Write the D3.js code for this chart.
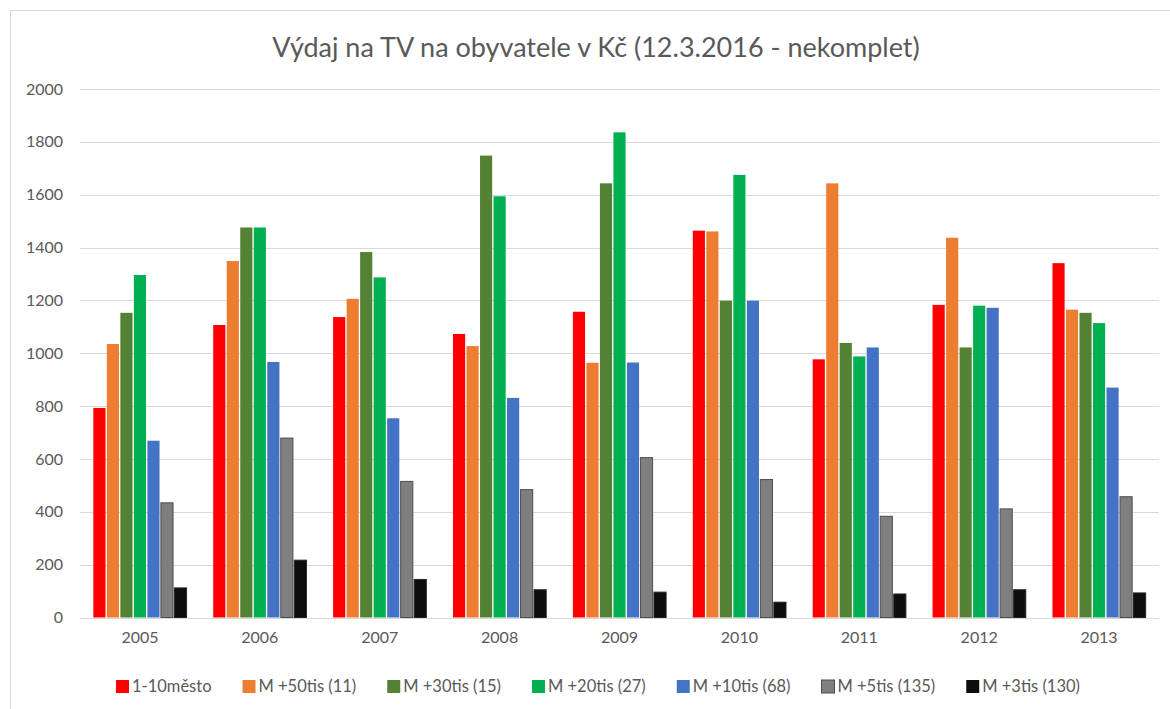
<!DOCTYPE html>
<html>
<head>
<meta charset="utf-8">
<script src="https://cdn.jsdelivr.net/npm/d3@7"></script>
<style>
  body { margin: 0; background: #fff; }
  svg text { font-family: Lato, "Open Sans", sans-serif; }
</style>
</head>
<body>
<script>
// data
var years = ["2005", "2006", "2007", "2008", "2009", "2010", "2011", "2012", "2013"];
var seriesNames = ["1-10město", "M +50tis (11)", "M +30tis (15)", "M +20tis (27)",
                   "M +10tis (68)", "M +5tis (135)", "M +3tis (130)"];
var seriesColors = ["#FF0000", "#ED7D31", "#548235", "#00B050", "#4472C4", "#7F7F7F", "#0D0D0D"];

var mesto   = [793, 1107, 1137, 1073, 1157, 1464, 977, 1183, 1341];
var m50tis  = [1035, 1349, 1206, 1027, 964, 1461, 1643, 1437, 1165];
var m30tis  = [1153, 1476, 1383, 1748, 1643, 1199, 1039, 1022, 1153];
var m20tis  = [1296, 1476, 1287, 1594, 1836, 1675, 988, 1180, 1114];
var m10tis  = [669, 967, 754, 831, 965, 1199, 1022, 1172, 870];
var m5tis   = [434, 679, 515, 484, 605, 522, 383, 411, 457];
var m3tis   = [112, 217, 144, 105, 96, 58, 89, 105, 93];

var yTicks = [0, 200, 400, 600, 800, 1000, 1200, 1400, 1600, 1800, 2000];

var allSeries = [mesto, m50tis, m30tis, m20tis, m10tis, m5tis, m3tis];

var width = 1170, height = 709;
var margin = {top: 89, right: 11, bottom: 91, left: 80};

var svg = d3.select("body").append("svg")
  .attr("width", width)
  .attr("height", height);

// chart frame
svg.append("rect")
  .attr("x", 10.5).attr("y", 10.5)
  .attr("width", width + 10).attr("height", height + 10)
  .attr("fill", "none")
  .attr("stroke", "#D9D9D9")
  .attr("stroke-width", 1);

svg.append("text")
  .attr("x", 596)
  .attr("y", 57)
  .attr("text-anchor", "middle")
  .attr("fill", "#595959")
  .style("font-size", "27px")
  .text("Výdaj na TV na obyvatele v Kč (12.3.2016 - nekomplet)");

var x0 = d3.scaleBand()
  .domain(years)
  .range([margin.left, width - margin.right])
  .paddingInner(0.2)
  .paddingOuter(0.1);

var x1 = d3.scaleBand()
  .domain(d3.range(seriesNames.length))
  .range([0, x0.bandwidth()])
  .padding(0.1);

var y = d3.scaleLinear()
  .domain([0, 2000])
  .range([height - margin.bottom - 0.5, margin.top]);

// gridlines
svg.append("g")
  .selectAll("line")
  .data(yTicks)
  .enter().append("line")
    .attr("x1", margin.left)
    .attr("x2", width - margin.right)
    .attr("y1", d => Math.round(y(d)) + 0.5)
    .attr("y2", d => Math.round(y(d)) + 0.5)
    .attr("stroke", "#D9D9D9")
    .attr("stroke-width", 1);

// y axis labels
var yAxis = svg.append("g")
  .attr("transform", "translate(" + (margin.left - 17) + ",0)")
  .call(d3.axisLeft(y).tickValues(yTicks).tickFormat(d3.format("d")).tickSize(0).tickPadding(0));
yAxis.select(".domain").remove();
yAxis.selectAll("text")
  .attr("fill", "#595959")
  .style("font-size", "16px")
  .style("font-family", "Lato, 'Open Sans', sans-serif");

// x axis labels
var xAxis = svg.append("g")
  .attr("transform", "translate(0," + (height - margin.bottom) + ")")
  .call(d3.axisBottom(x0).tickSize(0).tickPadding(14));
xAxis.select(".domain").remove();
xAxis.selectAll("text")
  .attr("fill", "#595959")
  .style("font-size", "16px")
  .style("font-family", "Lato, 'Open Sans', sans-serif");

// bars
var groups = svg.append("g")
  .selectAll("g")
  .data(years)
  .enter().append("g")
    .attr("transform", d => "translate(" + x0(d) + ",0)");

groups.selectAll("rect")
  .data((d, i) => allSeries.map((s, k) => ({k: k, v: s[i]})))
  .enter().append("rect")
    .attr("x", d => x1(d.k))
    .attr("y", d => y(d.v))
    .attr("width", x1.bandwidth())
    .attr("height", d => y(0) - y(d.v))
    .attr("fill", d => seriesColors[d.k])
    .attr("stroke", d => d.k === 5 ? "#4D4D4D" : (d.k === 6 ? "#262626" : "none"))
    .attr("stroke-width", 1);

// legend, laid out centred
var legend = svg.append("g")
  .attr("transform", "translate(0,692)");

var items = legend.selectAll("g")
  .data(seriesNames)
  .enter().append("g");

items.append("rect")
  .attr("x", 0)
  .attr("y", -12)
  .attr("width", 13)
  .attr("height", 13)
  .attr("fill", (d, i) => seriesColors[i])
  .attr("stroke", (d, i) => i === 5 ? "#4D4D4D" : "none");

items.append("text")
  .attr("x", 16)
  .attr("y", 0)
  .attr("fill", "#595959")
  .style("font-size", "16.5px")
  .text(d => d);

var gap = 31;
var widths = [];
items.each(function() { widths.push(this.getBBox().width); });
var total = d3.sum(widths) + gap * (widths.length - 1);
var cx = 598 - total / 2;
items.attr("transform", function(d, i) {
  var t = "translate(" + cx + ",0)";
  cx += widths[i] + gap;
  return t;
});
</script>
</body>
</html>
